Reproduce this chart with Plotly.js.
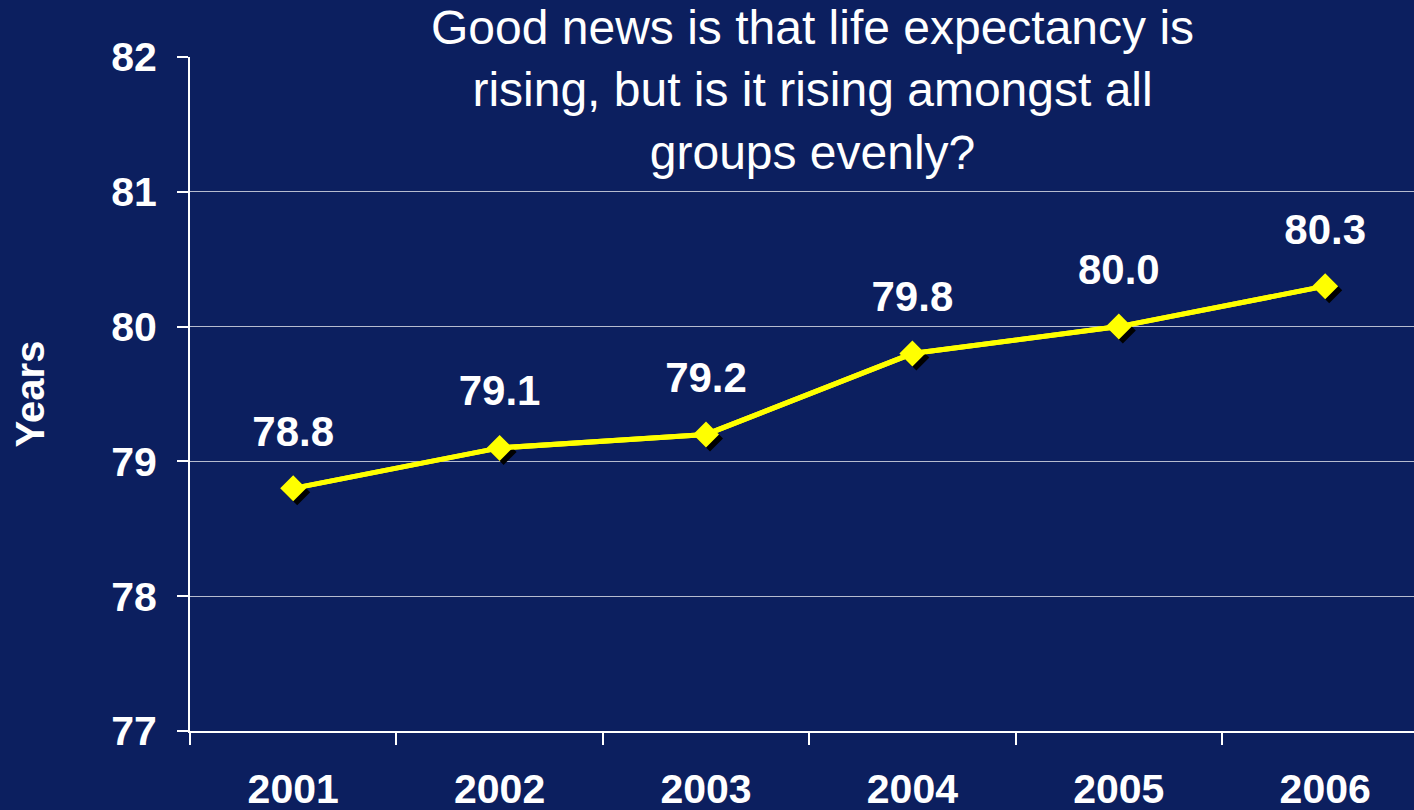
<!DOCTYPE html>
<html>
<head>
<meta charset="utf-8">
<script src="https://cdn.plot.ly/plotly-3.0.1.min.js"></script>
<style>html,body{margin:0;padding:0;background:#0c1f5f;}#chart{width:1414px;height:810px;}</style>
</head>
<body>
<div id="chart"></div>
<script>
const years = ['2001', '2002', '2003', '2004', '2005', '2006'];
const lifeExpectancy = [78.8, 79.1, 79.2, 79.8, 80.0, 80.3];
const yTicks = [77, 78, 79, 80, 81, 82];
const titleText = 'Good news is that life expectancy is<br>rising, but is it rising amongst all<br>groups evenly?';
const yTitle = 'Years';

const W = 1414, H = 810;
const ml = 190, mt = 57, mb = 79, mr = 0;
const pw = W - ml - mr, ph = H - mt - mb;
const catPx = 206.4;
const yMin = 77, yMax = 82;
const unitPx = ph / (yMax - yMin);
const sx = 4, sy = 4; // shadow offset in px

const FONT = 'Liberation Sans, Arial, Helvetica, sans-serif';
const bg = '#0c1f5f';

const xr = [-0.5, -0.5 + pw / catPx];
const dx = sx / catPx, dy = sy / unitPx;
const labelShiftPx = 53;

const baseLine = {
  x: years, y: lifeExpectancy, type: 'scatter', mode: 'lines',
  line: {color: '#ffff00', width: 5},
  hoverinfo: 'skip', showlegend: false
};
const shadow = {
  x: years, y: lifeExpectancy, type: 'scatter', mode: 'markers',
  xaxis: 'x2', yaxis: 'y2',
  marker: {symbol: 'diamond', size: 20, color: '#000000', line: {width: 0}},
  hoverinfo: 'skip', showlegend: false
};
const main = {
  x: years, y: lifeExpectancy, type: 'scatter', mode: 'lines+markers',
  xaxis: 'x3', yaxis: 'y3',
  line: {color: '#ffff00', width: 5},
  marker: {symbol: 'diamond', size: 20, color: '#ffff00', line: {width: 0}},
  showlegend: false
};
const labels = {
  x: years, y: lifeExpectancy, type: 'scatter', mode: 'text',
  xaxis: 'x4', yaxis: 'y4',
  text: lifeExpectancy.map(v => v.toFixed(1)),
  textposition: 'middle center',
  textfont: {family: FONT, size: 42, color: '#ffffff', weight: 'bold'},
  hoverinfo: 'skip', showlegend: false
};

const annotations = [{
  xref: 'paper', yref: 'paper', x: (812 - ml) / pw, y: 1 + (mt - 90) / ph,
  xanchor: 'center', yanchor: 'middle',
  text: titleText, showarrow: false, align: 'center',
  font: {family: FONT, size: 48, color: '#ffffff'}
}];

const hidden = {visible: false, showgrid: false, zeroline: false};
const layout = {
  width: W, height: H,
  paper_bgcolor: bg, plot_bgcolor: bg,
  margin: {l: ml, r: mr, t: mt, b: mb, pad: 0},
  xaxis: {
    type: 'category', range: xr,
    tickson: 'boundaries', ticks: 'outside', ticklen: 12, tickwidth: 2, tickcolor: '#ffffff',
    showline: true, linecolor: '#ffffff', linewidth: 2,
    showgrid: false, zeroline: false,
    tickfont: {family: FONT, size: 41, color: '#ffffff', weight: 'bold'},
    ticklabelstandoff: 21
  },
  yaxis: {
    range: [yMin, yMax], tickvals: yTicks, ticktext: yTicks.map(String),
    ticks: 'outside', ticklen: 11, tickwidth: 2, tickcolor: '#ffffff',
    showline: true, linecolor: '#ffffff', linewidth: 2,
    showgrid: true, gridcolor: 'rgba(255,255,255,0.7)', gridwidth: 1,
    zeroline: false,
    tickfont: {family: FONT, size: 41, color: '#ffffff', weight: 'bold'},
    ticklabelstandoff: 12,
    title: {text: yTitle, font: {family: FONT, size: 40, color: '#ffffff', weight: 'bold'}, standoff: 54}
  },
  xaxis2: Object.assign({type: 'category', range: [xr[0] - dx, xr[1] - dx], overlaying: 'x', anchor: 'y2'}, hidden),
  yaxis2: Object.assign({range: [yMin + dy, yMax + dy], overlaying: 'y', anchor: 'x2'}, hidden),
  xaxis3: Object.assign({type: 'category', range: xr, overlaying: 'x', anchor: 'y3'}, hidden),
  yaxis3: Object.assign({range: [yMin, yMax], overlaying: 'y', anchor: 'x3'}, hidden),
  xaxis4: Object.assign({type: 'category', range: xr, overlaying: 'x', anchor: 'y4'}, hidden),
  yaxis4: Object.assign({range: [yMin - labelShiftPx / unitPx, yMax - labelShiftPx / unitPx], overlaying: 'y', anchor: 'x4'}, hidden),
  annotations: annotations,
  showlegend: false
};

Plotly.newPlot('chart', [baseLine, shadow, main, labels], layout, {displayModeBar: false, staticPlot: true});
</script>
</body>
</html>
